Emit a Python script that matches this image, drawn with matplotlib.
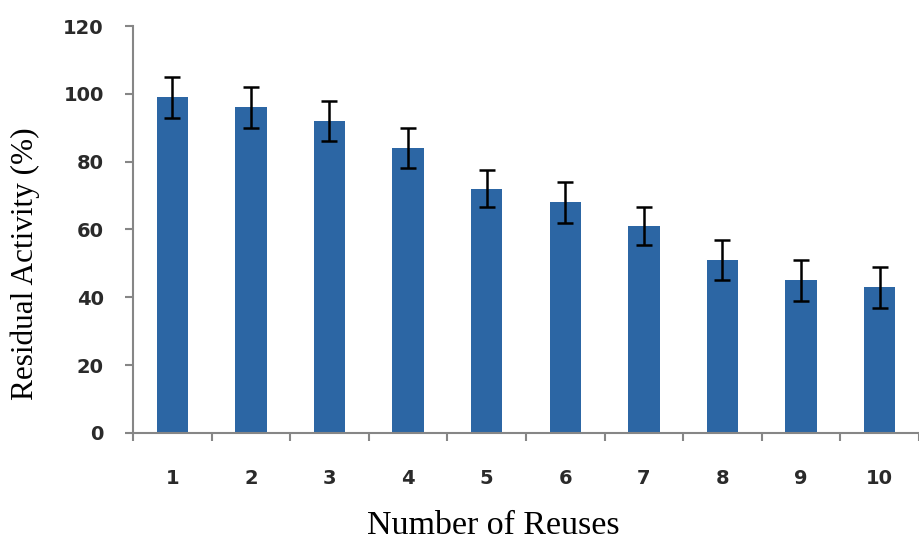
import matplotlib.pyplot as plt

# data
reuses = [1, 2, 3, 4, 5, 6, 7, 8, 9, 10]
activity = [99, 96, 92, 84, 72, 68, 61, 51, 45, 43]
errors = [6, 6, 6, 6, 5.5, 6, 5.5, 6, 6, 6]

fig = plt.figure(figsize=(9.19, 5.43), dpi=100)
ax = fig.add_axes([0.1447, 0.2026, 0.8553, 0.7495])

ax.bar(reuses, activity, width=0.4, color="#2C66A4", zorder=2)
ax.errorbar(reuses, activity, yerr=errors, fmt="none", ecolor="black",
            elinewidth=1.8, capsize=6, capthick=1.8, zorder=3)

ax.set_xlim(0.5, 10.5)
ax.set_ylim(0, 120)
ax.set_yticks(range(0, 121, 20))

# x ticks between categories, labels centred on categories
ax.set_xticks([i + 0.5 for i in range(0, 11)])
ax.set_xticklabels([])
ax.set_xticks(reuses, minor=True)
ax.set_xticklabels([str(r) for r in reuses], minor=True)
ax.tick_params(axis="x", which="minor", length=0, pad=26)
ax.tick_params(axis="x", which="major", length=6, width=1.5, color="#868686")
ax.tick_params(axis="y", length=6, width=1.5, color="#868686", pad=15)

for lab in ax.get_yticklabels() + ax.get_xticklabels(minor=True):
    lab.set_fontfamily("DejaVu Sans")
    lab.set_fontweight("bold")
    lab.set_fontsize(14)
    lab.set_color("#2a2a2a")

for side in ["top", "right"]:
    ax.spines[side].set_visible(False)
for side in ["left", "bottom"]:
    ax.spines[side].set_color("#868686")
    ax.spines[side].set_linewidth(1.5)

ax.set_xlabel("Number of Reuses", fontfamily="Liberation Serif", fontsize=24.5, va="center")
ax.set_ylabel("Residual Activity (%)", fontfamily="Liberation Serif", fontsize=22.5, va="center")
ax.xaxis.set_label_coords(0.459, -0.228)
ax.yaxis.set_label_coords(-0.137, 0.415)

fig.savefig("out.png", dpi=100)
